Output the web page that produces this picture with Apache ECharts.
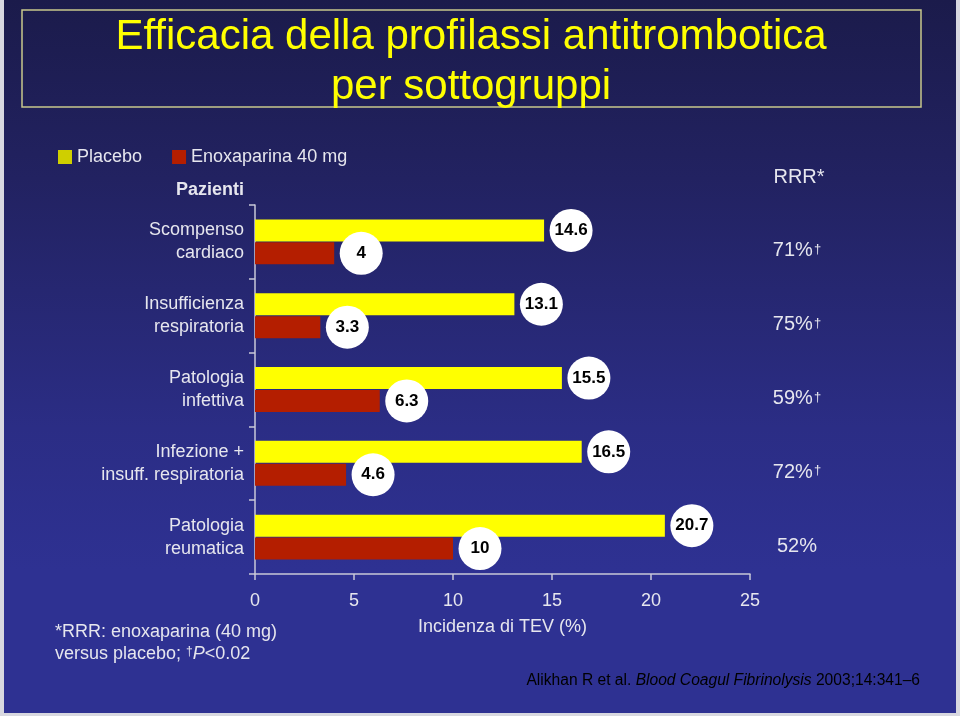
<!DOCTYPE html>
<html>
<head>
<meta charset="utf-8">
<title>Efficacia della profilassi antitrombotica per sottogruppi</title>
<script src="https://cdn.jsdelivr.net/npm/echarts@6/dist/echarts.min.js"></script>
<style>
  html, body { margin: 0; padding: 0; background: #d8d8e0; }
  #chart { width: 960px; height: 716px; }
</style>
</head>
<body>
<div id="chart"></div>
<script>
// dati
var categorie = ['Scompenso\ncardiaco', 'Insufficienza\nrespiratoria', 'Patologia\ninfettiva', 'Infezione +\ninsuff. respiratoria', 'Patologia\nreumatica']
var placebo = [14.6, 13.1, 15.5, 16.5, 20.7]
var enoxaparina = [4, 3.3, 6.3, 4.6, 10]
var rrr = ['71%', '75%', '59%', '72%', '52%']
var significativo = [true, true, true, true, false]
var xTicks = [0, 5, 10, 15, 20, 25]

var testo = '#e6e6ee'
var font = 'Liberation Sans, Arial, sans-serif'

var chart = echarts.init(document.getElementById('chart'))

// etichetta a cerchio bianco dopo la fine della barra
function etichetta () {
  return {
    show: true,
    position: 'right',
    distance: 27,
    width: 43,
    height: 43,
    lineHeight: 43,
    align: 'center',
    borderRadius: 22,
    backgroundColor: '#ffffff',
    color: '#000000',
    fontFamily: font,
    fontWeight: 'bold',
    fontSize: 17
  }
}

var option = {
  backgroundColor: '#d8d8e0',
  animation: false,
  textStyle: { fontFamily: font },
  graphic: [
    {
      type: 'rect',
      z: -10,
      silent: true,
      shape: { x: 4, y: 0, width: 952, height: 713 },
      style: {
        fill: new echarts.graphic.LinearGradient(0, 0, 0, 1, [
          { offset: 0, color: '#1b1b4b' },
          { offset: 0.25, color: '#222261' },
          { offset: 0.6, color: '#2b2d85' },
          { offset: 0.8, color: '#2e3192' },
          { offset: 1, color: '#2e3192' }
        ])
      }
    },
    {
      type: 'rect',
      z: -9,
      silent: true,
      shape: { x: 22, y: 10, width: 899, height: 97 },
      style: { fill: 'none', stroke: '#c8c88c', lineWidth: 1.5 }
    },
    {
      type: 'text',
      x: 471,
      y: 62,
      style: {
        text: 'Efficacia della profilassi antitrombotica\nper sottogruppi',
        fill: '#ffff00',
        font: '42px ' + font,
        align: 'center',
        verticalAlign: 'middle',
        lineHeight: 50
      }
    },
    {
      type: 'text',
      x: 244,
      y: 190,
      style: {
        text: 'Pazienti',
        fill: testo,
        font: 'bold 18px ' + font,
        align: 'right',
        verticalAlign: 'middle'
      }
    },
    {
      type: 'text',
      x: 799,
      y: 177,
      style: {
        text: 'RRR*',
        fill: testo,
        font: '20px ' + font,
        align: 'center',
        verticalAlign: 'middle'
      }
    },
    {
      type: 'text',
      x: 55,
      y: 643,
      style: {
        text: '*RRR: enoxaparina (40 mg)\n{n|versus placebo; }{s|†}{i|P}{n|<0.02}',
        fill: testo,
        font: '18px ' + font,
        verticalAlign: 'middle',
        lineHeight: 22,
        rich: {
          n: { fontSize: 18, fontFamily: font, color: testo },
          s: { fontSize: 12, fontFamily: font, color: testo, verticalAlign: 'top', padding: [3, 0, 0, 0] },
          i: { fontSize: 18, fontFamily: font, fontStyle: 'italic', color: testo }
        }
      }
    },
    {
      type: 'text',
      x: 920,
      y: 681,
      style: {
        text: '{n|Alikhan R et al. }{i|Blood Coagul Fibrinolysis}{n| 2003;14:341–6}',
        fill: '#000000',
        align: 'right',
        verticalAlign: 'middle',
        rich: {
          n: { fontSize: 15.6, fontFamily: font, color: '#000000' },
          i: { fontSize: 15.6, fontFamily: font, fontStyle: 'italic', color: '#000000' }
        }
      }
    }
  ],
  legend: {
    left: 53,
    top: 143,
    itemWidth: 14,
    itemHeight: 14,
    itemGap: 30,
    icon: 'rect',
    textStyle: { color: testo, fontSize: 18, fontFamily: font },
    data: [
      { name: 'Placebo', itemStyle: { color: '#cfcf00' } },
      { name: 'Enoxaparina 40 mg', itemStyle: { color: '#b41e00' } }
    ]
  },
  grid: {
    left: 255,
    right: 210,
    top: 205,
    bottom: 142
  },
  xAxis: {
    type: 'value',
    min: 0,
    max: 25,
    interval: 5,
    name: 'Incidenza di TEV (%)',
    nameLocation: 'middle',
    nameGap: 44,
    nameTextStyle: { color: testo, fontSize: 18, fontFamily: font },
    splitLine: { show: false },
    axisLine: { show: true, lineStyle: { color: '#c8c8d8', width: 1.5 } },
    axisTick: { show: true, length: 6, lineStyle: { color: '#c8c8d8', width: 1.5 } },
    axisLabel: {
      color: testo,
      fontSize: 18,
      margin: 18,
      formatter: function (v) { return xTicks.indexOf(v) >= 0 ? String(v) : '' }
    }
  },
  yAxis: [
    {
      type: 'category',
      inverse: true,
      data: categorie,
      axisLine: { show: true, lineStyle: { color: '#c8c8d8', width: 1.5 } },
      axisTick: { show: true, length: 6, lineStyle: { color: '#c8c8d8', width: 1.5 } },
      axisLabel: {
        color: testo,
        fontSize: 18,
        lineHeight: 23,
        margin: 11,
        align: 'right',
        padding: [4, 0, 0, 0]
      }
    },
    {
      type: 'category',
      inverse: true,
      position: 'right',
      data: categorie,
      axisLine: { show: false },
      axisTick: { show: false },
      axisLabel: {
        margin: 47,
        align: 'center',
        formatter: function (v, i) {
          return '{v|' + rrr[i] + '}' + (significativo[i] ? '{d|†}' : '')
        },
        rich: {
          v: { fontSize: 20, fontFamily: font, color: testo, padding: [18, 0, 0, 0] },
          d: { fontSize: 13, fontFamily: font, color: testo, verticalAlign: 'top', padding: [20, 0, 0, 1] }
        }
      }
    }
  ],
  series: [
    {
      name: 'Placebo',
      type: 'bar',
      barWidth: 22,
      barGap: '4%',
      itemStyle: { color: '#ffff00' },
      label: etichetta(),
      data: placebo
    },
    {
      name: 'Enoxaparina 40 mg',
      type: 'bar',
      barWidth: 22,
      barGap: '4%',
      itemStyle: { color: '#b41e00' },
      label: etichetta(),
      data: enoxaparina
    }
  ]
}

chart.setOption(option)
</script>
</body>
</html>
